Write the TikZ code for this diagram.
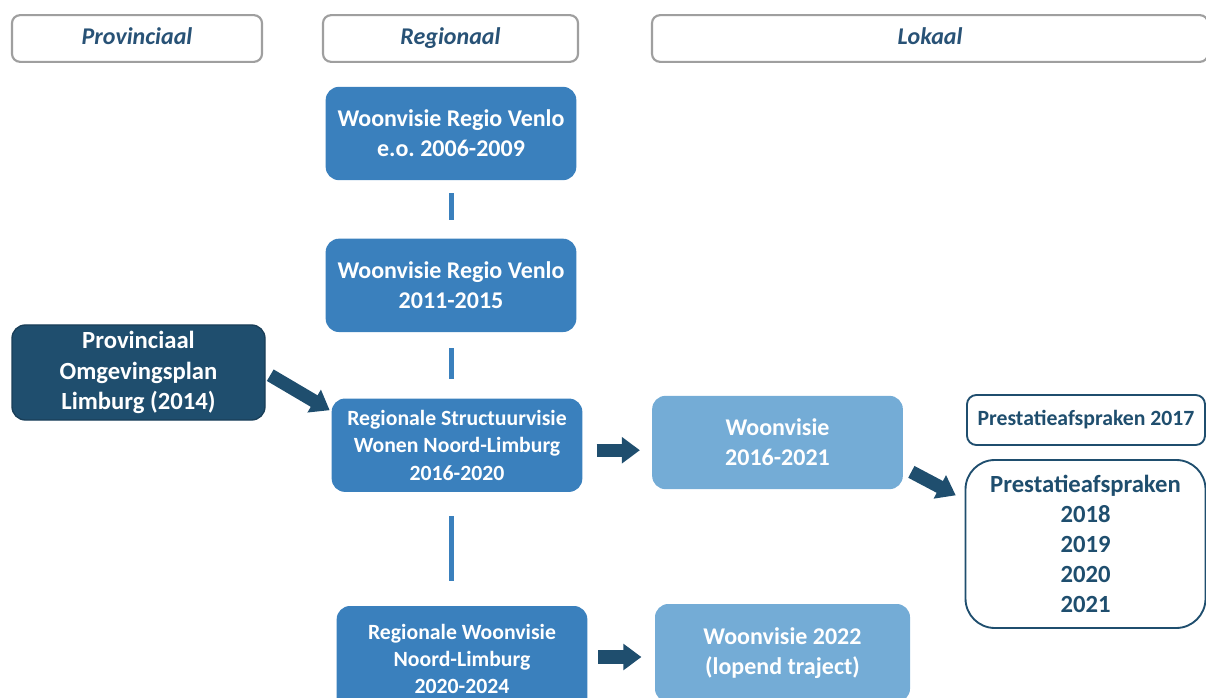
\documentclass[tikz,border=0pt]{standalone}
\usepackage{fontspec}
\setmainfont{Carlito}
\frenchspacing
\usetikzlibrary{arrows.meta,positioning}
\definecolor{regblue}{RGB}{58,128,189}
\definecolor{lokblue}{RGB}{116,172,214}
\definecolor{provnavy}{RGB}{31,78,110}
\definecolor{hdtext}{RGB}{40,82,118}
\tikzset{
  hdr/.style  ={draw=gray!75,line width=1.6pt,rounded corners=6pt,fill=white,text=hdtext,
                font=\fontsize{18}{22}\selectfont\bfseries\itshape,
                text height=12pt,text depth=3pt,
                minimum height=35pt,inner sep=0pt},
  reg/.style  ={fill=regblue,rounded corners=10pt,text=white,align=center,
                font=\fontsize{18}{22.5}\selectfont\bfseries,
                minimum width=188pt,minimum height=70pt,inner sep=0pt},
  regs/.style ={reg,font=\fontsize{16.3}{20.5}\selectfont\bfseries},
  lok/.style  ={reg,fill=lokblue},
  prov/.style ={reg,fill=provnavy,draw=provnavy!80!black,line width=1pt,
                font=\fontsize{18.5}{22.9}\selectfont\bfseries},
  pa/.style   ={draw=provnavy,line width=1.4pt,fill=white,text=provnavy,align=center,
                inner sep=0pt},
  lnk/.style  ={regblue,line width=3.75pt},
  ar/.style   ={provnavy,line width=10pt,-{Triangle[length=13.5pt,width=19pt]}},
}

\begin{document}
\begin{tikzpicture}[x=0.75pt,y=-0.75pt]
\useasboundingbox (0,0) rectangle (1206,698);
% headings
\node[hdr,minimum width=187.5pt]  (hprov) at (137,38.5)   {Provinciaal};
\node[hdr,minimum width=191.25pt] (hreg)  at (450.5,38.5) {Regionaal};
\node[hdr,minimum width=417pt]    (hlok)  at (930,38.5)   {Lokaal};

% ---- regional column -------------------------------------------------
\node[reg] (venlo1) at (451,133.5) {Woonvisie Regio Venlo\\e.o. 2006-2009};
\node[reg,below=43.5pt of venlo1] (venlo2) {Woonvisie Regio Venlo\\2011-2015};
\node[regs,below=49.5pt of venlo2,xshift=4.5pt] (rsv)
  {Regionale Structuurvisie\\Wonen Noord-Limburg\\2016-2020};
\node[regs,minimum height=79.5pt] (rwv) at (462,659)
  {Regionale Woonvisie\\Noord-Limburg\\2020-2024};

% ---- provincial ------------------------------------------------------
\node[prov,minimum width=189.75pt,minimum height=71.25pt] (pol) at (138.5,372.5)
  {Provinciaal\\Omgevingsplan\\Limburg (2014)};

% ---- local -----------------------------------------------------------
\node[lok] (wv16) at (777.5,442.5) {Woonvisie\\2016-2021};
\node[lok,minimum width=191.25pt,minimum height=73.5pt] (wv22) at (782.5,653)
  {Woonvisie 2022\\(lopend traject)};
\node[pa,rounded corners=7pt,minimum width=178.5pt,minimum height=37.5pt,
      font=\fontsize{16.3}{20}\selectfont\bfseries] (pa17) at (1086,420)
  {Prestatieafspraken 2017};
\node[pa,rounded corners=22pt,minimum width=180pt,minimum height=126pt,
      font=\fontsize{18.5}{22.5}\selectfont\bfseries] (pa18) at (1085.5,544)
  {Prestatieafspraken\\2018\\2019\\2020\\2021};

% ---- edges -----------------------------------------------------------
\draw[lnk,shorten <=9.75pt,shorten >=13.5pt] (venlo1.south) -- (venlo1.south |- venlo2.north);
\draw[lnk,shorten <=12pt,shorten >=14.25pt] (venlo2.south) -- (venlo2.south |- rsv.north);
\draw[lnk,shorten <=18pt,shorten >=18.75pt] (venlo1.south |- rsv.south) -- (venlo1.south |- rwv.north);

\draw[ar,shorten <=4pt,shorten >=1.5pt] (pol.east) -- ([yshift=25.5pt]rsv.west);
\draw[ar,shorten <=10.5pt,shorten >=9pt] ([yshift=-3.75pt]rsv.east) -- ([yshift=-3.75pt]rsv.east -| wv16.west);
\draw[ar,shorten <=7pt,shorten >=7.5pt] ([yshift=-18.75pt]wv16.east) -- ([yshift=33pt]pa18.west);
\draw[ar,shorten <=8pt,shorten >=10pt] ([yshift=1.5pt]rwv.east) -- ([yshift=1.5pt]rwv.east -| wv22.west);
\end{tikzpicture}
\end{document}
